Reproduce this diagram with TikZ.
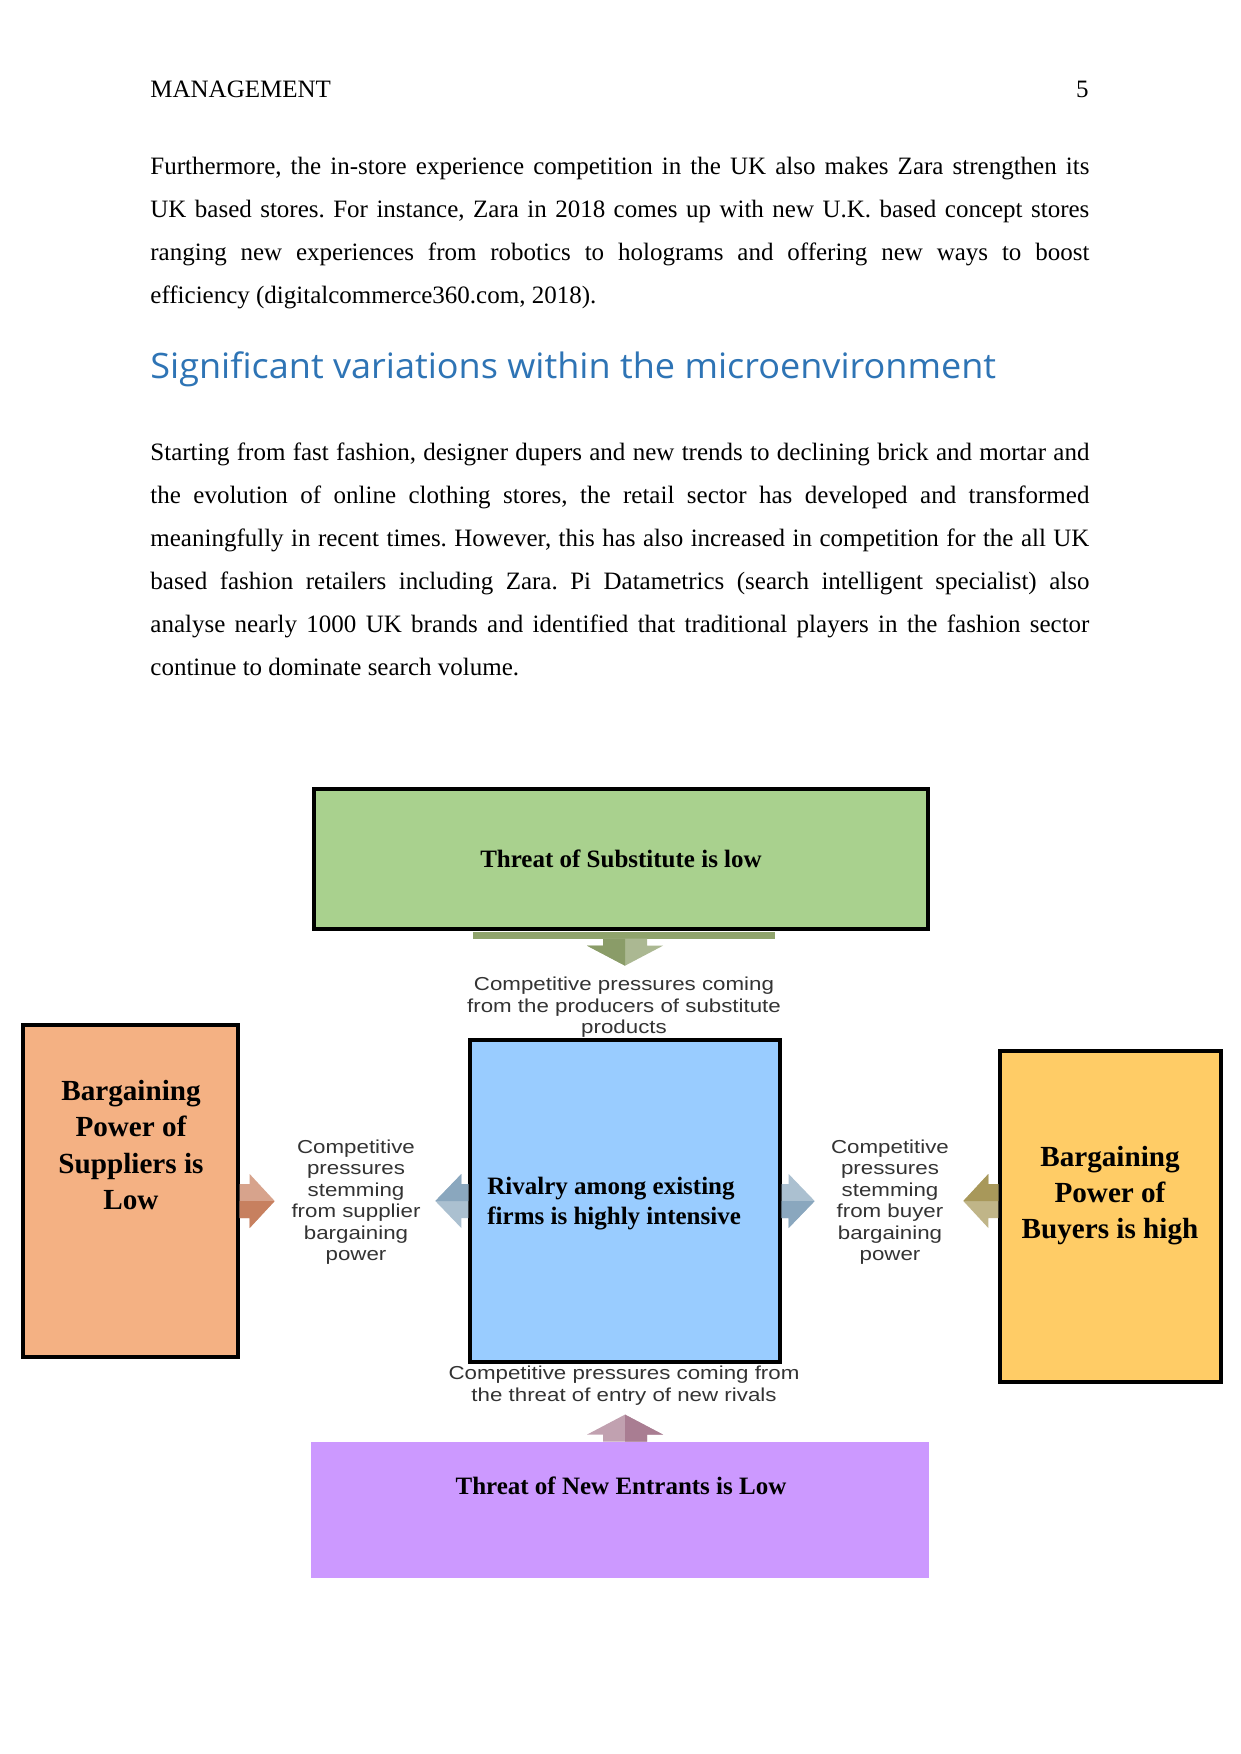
\documentclass[tikz,border=0pt]{standalone}
\usepackage{fontspec}
\setmainfont{Liberation Serif}
\newfontfamily\lblfont{Liberation Sans}[FakeStretch=1.19]
\newfontfamily\headfont{Open Sans}[FakeStretch=1.03]
\usetikzlibrary{positioning, calc}
\definecolor{subgreen}{HTML}{A9D18E}
\definecolor{supor}{HTML}{F4B183}
\definecolor{rivblue}{HTML}{99CCFF}
\definecolor{buyyel}{HTML}{FFCC66}
\definecolor{entpurp}{HTML}{CC99FF}
\definecolor{bandgreen}{HTML}{8FA36C}
\definecolor{subarr}{HTML}{8A9C68}
\definecolor{entarr}{HTML}{A97D92}
\definecolor{suparr}{HTML}{C7805F}
\definecolor{rivarr}{HTML}{8AA7BE}
\definecolor{buyarr}{HTML}{A8985A}
\definecolor{pressgray}{HTML}{333333}
\definecolor{headblue}{HTML}{2E74B5}
\frenchspacing
\hyphenpenalty=10000
\exhyphenpenalty=10000
\tikzset{
  pics/blockarr/.style n args={5}{code={
    \fill[#5!72!white] (0,-#3) -- (#1-#2,-#3) -- (#1-#2,-#4) -- (#1,0)
      -- (#1-#2,#4) -- (#1-#2,#3) -- (0,#3) -- cycle;
    \fill[#5] (0,0) -- (#1,0) -- (#1-#2,#4) -- (#1-#2,#3) -- (0,#3) -- cycle;
  }}
}
\begin{document}
\begin{tikzpicture}[x=0.48pt, y=-0.48pt,
    box/.style={draw=black, line width=1.6pt, inner sep=0pt},
    boxtxt/.style={font=\bfseries\fontsize{12pt}{14.4pt}\selectfont, align=left, inner sep=0pt},
    sidetxt/.style={font=\bfseries\fontsize{14pt}{17.4pt}\selectfont, align=center, inner sep=0pt},
    press/.style={font=\lblfont\fontsize{9pt}{10.3pt}\selectfont, text=pressgray, align=center, inner sep=0pt},
    body/.style={anchor=north west, inner sep=0pt, text width=450.72pt, align=justify,
      font=\fontsize{12pt}{20.64pt}\selectfont}]
    % page
    \fill[white] (0,0) rectangle (1241,1754);
    \useasboundingbox (0,0) rectangle (1241,1754);
    % header and text
    \node[anchor=base west, inner sep=0pt, font=\fontsize{12pt}{14pt}\selectfont] (hdr) at (150,97) {MANAGEMENT};
    \node[anchor=base east, inner sep=0pt, font=\fontsize{12pt}{14pt}\selectfont] (pgnum) at (1089,97) {5};
    \node[body] (para1) at (150,143.6) {\strut Furthermore, the in-store experience competition in the UK also makes Zara strengthen its\linebreak
      UK based stores. For instance, Zara in 2018 comes up with new U.K. based concept stores\linebreak
      ranging new experiences from robotics to holograms and offering new ways to boost\linebreak
      efficiency (digitalcommerce360.com, 2018).};
    \node[anchor=base west, inner sep=0pt, font=\headfont\fontsize{16.8pt}{20pt}\selectfont, text=headblue] (heading) at (150,378)
      {Significant variations within the microenvironment};
    \node[body] (para2) at (150,430.1) {\strut Starting from fast fashion, designer dupers and new trends to declining brick and mortar and\linebreak
      the evolution of online clothing stores, the retail sector has developed and transformed\linebreak
      meaningfully in recent times. However, this has also increased in competition for the all UK\linebreak
      based fashion retailers including Zara. Pi Datametrics (search intelligent specialist) also\linebreak
      analyse nearly 1000 UK brands and identified that traditional players in the fashion sector\linebreak
      continue to dominate search volume.};
    % five forces boxes
    \node[box, fill=subgreen, minimum width=614*0.48pt, minimum height=140*0.48pt,
      font=\bfseries\fontsize{12pt}{14.4pt}\selectfont] (sub) at (621,859) {Threat of Substitute is low};
    \node[box, fill=supor, minimum width=215*0.48pt, minimum height=332*0.48pt] (sup) at (130.5,1191) {};
    \node[box, fill=rivblue, minimum width=310*0.48pt, minimum height=322*0.48pt] (riv) at (625,1201) {};
    \node[box, fill=buyyel, minimum width=221*0.48pt, minimum height=331*0.48pt] (buy) at (1110.5,1216.5) {};
    \node[fill=entpurp, inner sep=0pt, minimum width=618*0.48pt, minimum height=136*0.48pt] (ent) at (620,1510) {};
    % box texts
    \node[sidetxt] (suptxt) at (131,1145) {Bargaining\\Power of\\Suppliers is\\Low};
    \node[sidetxt] (buytxt) at (1110,1195.5) {Bargaining\\Power of\\Buyers is high};
    \node[boxtxt, anchor=west] (rivtxt) at (487,1203.5) {Rivalry among existing\\firms is highly intensive};
    \node[boxtxt] (enttxt) at (621,1486) {Threat of New Entrants is Low};
    % pressure labels
    \node[press] (subpress) at (624,1007.5) {Competitive pressures coming\\from the producers of substitute\\products};
    \node[press] (suppress) at (356,1202) {Competitive\\pressures\\stemming\\from supplier\\bargaining\\power};
    \node[press] (buypress) at (890,1202) {Competitive\\pressures\\stemming\\from buyer\\bargaining\\power};
    \node[press] (entpress) at (624,1385.5) {Competitive pressures coming from\\the threat of entry of new rivals};
    % block arrows
    \fill[bandgreen] ($(riv.north |- sub.south)+(-152,1)$) rectangle +(302,7);
    \pic[rotate=-90] at ($(riv.north |- sub.south)+(0,8)$) {blockarr={27}{20}{22}{38}{subarr}};
    \pic[rotate=90] at (riv.south |- ent.north) {blockarr={27}{20}{22}{38}{entarr}};
    \pic at (sup.east |- riv.west) {blockarr={35}{25}{17}{27}{suparr}};
    \pic[rotate=180] at (riv.west) {blockarr={33}{26}{17}{27}{rivarr}};
    \pic at (riv.east) {blockarr={33}{26}{17}{27}{rivarr}};
    \pic[rotate=180] at (buy.west |- riv.east) {blockarr={35}{25}{17}{27}{buyarr}};
\end{tikzpicture}
\end{document}
